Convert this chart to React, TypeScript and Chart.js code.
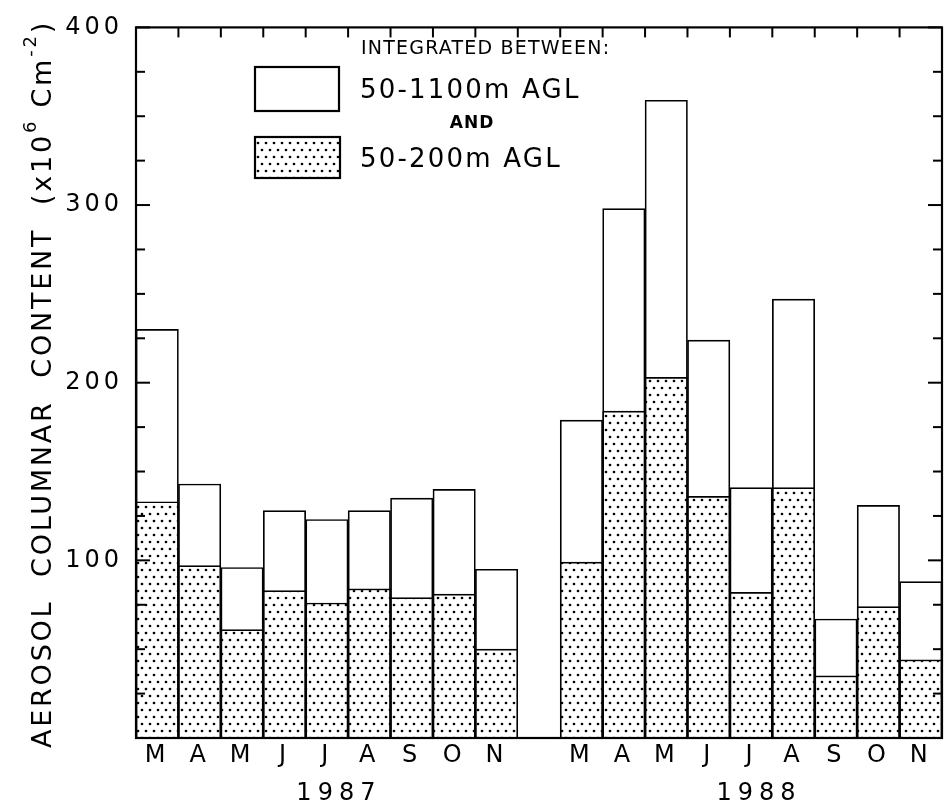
import React, { useEffect, useRef } from 'react';
import { Chart, registerables } from 'chart.js';

Chart.register(...registerables);

const months = ['M', 'A', 'M', 'J', 'J', 'A', 'S', 'O', 'N'];
const years = ['1987', '1988'];
const upper1987 = [230, 143, 96, 128, 123, 128, 135, 140, 95];
const lower1987 = [133, 97, 61, 83, 76, 84, 79, 81, 50];
const upper1988 = [179, 298, 359, 224, 141, 247, 67, 131, 88];
const lower1988 = [99, 184, 203, 136, 82, 141, 35, 74, 44];
const yMin = 0;
const yMax = 400;
const yStep = 25;
const yLabelStep = 100;
const legendHeading = 'INTEGRATED BETWEEN:';
const legendUpper = '50-1100m AGL';
const legendJoin = 'AND';
const legendLower = '50-200m AGL';
const yTitleParts = [
  { t: 'AEROSOL  COLUMNAR  CONTENT  (x10', sup: false },
  { t: '6', sup: true },
  { t: ' Cm', sup: false },
  { t: '-2', sup: true },
  { t: ')', sup: false },
];

const FONT = '"DejaVu Sans", sans-serif';

const labels = [...months, '', ...months];
const upperData = [...upper1987, null, ...upper1988];
const lowerData = [...lower1987, null, ...lower1988];

function makePattern(): CanvasPattern | string {
  const pc = document.createElement('canvas');
  pc.width = 8;
  pc.height = 14;
  const c = pc.getContext('2d');
  if (!c) return '#fff';
  c.fillStyle = '#fff';
  c.fillRect(0, 0, 8, 14);
  c.fillStyle = '#000';
  c.beginPath();
  c.arc(2, 3, 1.35, 0, Math.PI * 2);
  c.closePath();
  c.moveTo(7.35, 10);
  c.arc(6, 10, 1.35, 0, Math.PI * 2);
  c.fill();
  const p = c.createPattern(pc, 'repeat');
  return p || '#fff';
}

export default function App() {
  const ref = useRef<HTMLCanvasElement | null>(null);

  useEffect(() => {
    const canvas = ref.current;
    if (!canvas) return;
    const pattern = makePattern();

    const deco = {
      id: 'deco',
      beforeDraw(chart: any) {
        chart.ctx.letterSpacing = '4px';
      },
      afterDraw(chart: any) {
        const ctx = chart.ctx;
        const a = chart.chartArea;
        const xs = chart.scales.x;
        const ys = chart.scales.y;
        ctx.save();
        ctx.letterSpacing = '0px';
        ctx.strokeStyle = '#000';
        ctx.lineWidth = 2.2;
        ctx.strokeRect(a.left, a.top, a.right - a.left, a.bottom - a.top);
        const line = (x1: number, y1: number, x2: number, y2: number) => {
          ctx.beginPath();
          ctx.moveTo(x1, y1);
          ctx.lineTo(x2, y2);
          ctx.stroke();
        };
        ctx.lineWidth = 2;
        ys.ticks.forEach((t: any) => {
          const py = ys.getPixelForValue(t.value);
          const len = t.value % yLabelStep === 0 ? 14 : 9;
          line(a.left, py, a.left + len, py);
          line(a.right, py, a.right - len, py);
        });
        for (let i = 1; i < labels.length; i++) {
          const px = (xs.getPixelForValue(i - 1) + xs.getPixelForValue(i)) / 2;
          line(px, a.top, px, a.top + 10);
        }

        // year labels
        ctx.fillStyle = '#000';
        ctx.font = `24px ${FONT}`;
        ctx.letterSpacing = '6px';
        ctx.textAlign = 'center';
        ctx.textBaseline = 'middle';
        const g1 = (xs.getPixelForValue(0) + xs.getPixelForValue(8)) / 2;
        const g2 = (xs.getPixelForValue(10) + xs.getPixelForValue(18)) / 2;
        ctx.fillText(years[0], g1 + 12, 794);
        ctx.fillText(years[1], g2 + 8, 794);

        // legend
        ctx.letterSpacing = '0px';
        ctx.lineWidth = 2.2;
        ctx.fillStyle = '#fff';
        ctx.fillRect(255, 67, 84, 44);
        ctx.strokeRect(255, 67, 84, 44);
        ctx.fillStyle = pattern as any;
        ctx.fillRect(255, 137, 85, 41);
        ctx.strokeRect(255, 137, 85, 41);
        ctx.fillStyle = '#000';
        ctx.textAlign = 'left';
        ctx.font = `19px ${FONT}`;
        ctx.letterSpacing = '1.2px';
        ctx.fillText(legendHeading, 361, 49);
        ctx.font = `26px ${FONT}`;
        ctx.letterSpacing = '2.2px';
        ctx.fillText(legendUpper, 360, 91);
        ctx.fillText(legendLower, 360, 160);
        ctx.font = `bold 17px ${FONT}`;
        ctx.letterSpacing = '1px';
        ctx.textAlign = 'center';
        ctx.fillText(legendJoin, 472, 124);

        // y title
        const mainFont = `27px ${FONT}`;
        const supFont = `18px ${FONT}`;
        ctx.letterSpacing = '0px';
        let raw = 0;
        let count = 0;
        yTitleParts.forEach((p) => {
          ctx.font = p.sup ? supFont : mainFont;
          raw += ctx.measureText(p.t).width;
          count += p.t.length;
        });
        const target = 728;
        const sp = (target - raw) / count;
        ctx.translate(44, 384);
        ctx.rotate(-Math.PI / 2);
        ctx.textAlign = 'left';
        ctx.textBaseline = 'middle';
        ctx.letterSpacing = `${sp}px`;
        let cx = -target / 2;
        yTitleParts.forEach((p) => {
          ctx.font = p.sup ? supFont : mainFont;
          ctx.fillText(p.t, cx, p.sup ? -13 : 0);
          cx += ctx.measureText(p.t).width;
        });
        ctx.restore();
      },
    };

    const chart = new Chart(canvas, {
      type: 'bar',
      data: {
        labels,
        datasets: [
          {
            label: legendLower,
            data: lowerData,
            backgroundColor: pattern as any,
            borderColor: '#000',
            borderWidth: 1.7,
            barPercentage: 1,
            categoryPercentage: 1,
          },
          {
            label: legendUpper,
            data: upperData,
            backgroundColor: '#fff',
            borderColor: '#000',
            borderWidth: 1.7,
            barPercentage: 1,
            categoryPercentage: 1,
          },
        ],
      },
      options: {
        animation: false,
        responsive: false,
        devicePixelRatio: 1,
        layout: { padding: { top: 22, right: 3, left: 0, bottom: 0 } },
        plugins: {
          legend: { display: false },
          tooltip: { enabled: false },
        },
        scales: {
          x: {
            stacked: true,
            offset: true,
            grid: { display: false, drawTicks: false, offset: true },
            border: { display: false },
            ticks: {
              color: '#000',
              font: { family: FONT, size: 24 },
              padding: 3,
              maxRotation: 0,
              autoSkip: false,
            },
            afterFit: (s: any) => {
              s.height = 67;
            },
          },
          y: {
            stacked: false,
            min: yMin,
            max: yMax,
            grid: { display: false, drawTicks: false },
            border: { display: false },
            ticks: {
              stepSize: yStep,
              color: '#000',
              font: { family: FONT, size: 24 },
              padding: 13,
              callback: (v: any) => (v % yLabelStep === 0 && v > 0 ? String(v) : ''),
            },
            afterFit: (s: any) => {
              s.width = 136;
            },
          },
        },
      },
      plugins: [deco],
    });
    return () => chart.destroy();
  }, []);

  return (
    <div style={{ position: 'absolute', left: 0, top: 0, width: 945, height: 805, background: '#fff' }}>
      <canvas ref={ref} width={945} height={805} style={{ width: 945, height: 805, display: 'block' }} />
    </div>
  );
}
